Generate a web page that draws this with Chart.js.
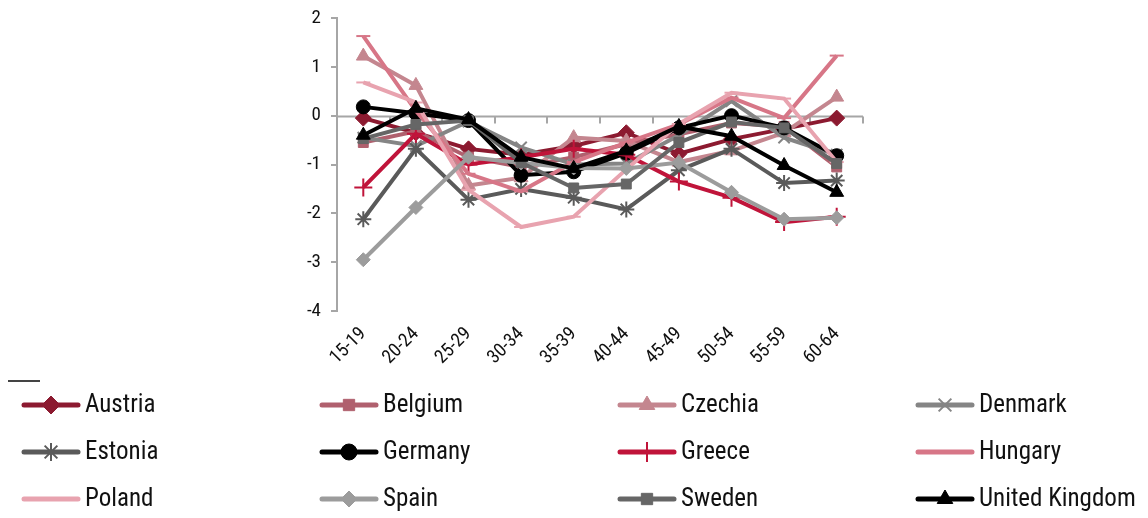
<!DOCTYPE html>
<html>
<head>
<meta charset="utf-8">
<script src="https://cdn.jsdelivr.net/npm/chart.js@4.4.1/dist/chart.umd.min.js"></script>
<style>
  html, body { margin: 0; padding: 0; background: #fff; }
  #wrap { width: 1148px; height: 518px; }
</style>
</head>
<body>
<div id="wrap"><canvas id="c" width="1148" height="518"></canvas></div>
<script>
const categories = ['15-19','20-24','25-29','30-34','35-39','40-44','45-49','50-54','55-59','60-64'];
const yTicks = [2, 1, 0, -1, -2, -3, -4];

const austria = [-0.05, -0.35, -0.68, -0.80, -0.62, -0.35, -0.78, -0.48, -0.27, -0.05];
const belgium = [-0.55, -0.32, -0.85, -1.05, -0.85, -0.58, -0.38, -0.15, -0.22, -1.05];
const czechia = [1.22, 0.62, -1.43, -1.27, -0.45, -0.52, -0.95, -0.72, -0.35, 0.38];
const denmark = [-0.45, -0.62, -0.12, -0.65, -1.00, -0.98, -0.40, 0.30, -0.45, -0.80];
const estonia = [-2.12, -0.68, -1.72, -1.50, -1.68, -1.92, -1.12, -0.68, -1.38, -1.33];
const germany = [0.18, 0.05, -0.10, -1.22, -1.15, -0.77, -0.25, 0.00, -0.25, -0.82];
const greece = [-1.47, -0.37, -1.00, -0.85, -0.68, -0.80, -1.35, -1.68, -2.18, -2.07];
const hungary = [1.63, 0.10, -1.19, -1.55, -0.95, -0.55, -0.18, 0.37, -0.05, 1.23];
const poland = [0.68, 0.27, -1.52, -2.28, -2.07, -1.10, -0.17, 0.47, 0.35, -0.95];
const spain = [-2.95, -1.88, -0.85, -0.97, -1.07, -1.08, -0.96, -1.57, -2.12, -2.09];
const sweden = [-0.47, -0.18, -0.10, -0.96, -1.48, -1.40, -0.55, -0.13, -0.25, -0.98];
const unitedKingdom = [-0.40, 0.15, -0.08, -0.85, -1.08, -0.72, -0.22, -0.42, -1.02, -1.57];

const seriesNames = ['Austria','Belgium','Czechia','Denmark','Estonia','Germany','Greece','Hungary','Poland','Spain','Sweden','United Kingdom'];
const seriesData = [austria, belgium, czechia, denmark, estonia, germany, greece, hungary, poland, spain, sweden, unitedKingdom];
const seriesColors = ['#8C1A30','#B0606E','#C4868F','#858585','#5A5A5A','#000000','#C0143A','#D77687','#E8A3AF','#9C9C9C','#666666','#000000'];
const seriesMarkers = ['rectRot','rect','triangle','crossRot','star','circle','cross','line','line','rectRot','rect','triangle'];
const seriesRadius = [8, 7, 8, 8, 8, 7, 9, 7, 7, 7, 7, 8];

const FONT = "'Roboto Condensed', 'Liberation Sans Narrow', 'Roboto', sans-serif";

const datasets = seriesNames.map((name, i) => ({
  label: name,
  data: seriesData[i],
  borderColor: seriesColors[i],
  backgroundColor: seriesColors[i],
  borderWidth: 4,
  pointStyle: seriesMarkers[i],
  pointRadius: seriesRadius[i],
  pointHoverRadius: seriesRadius[i],
  pointBorderWidth: (['star','cross','crossRot','line'].includes(seriesMarkers[i])) ? 2 : 1,
  pointBackgroundColor: seriesColors[i],
  pointBorderColor: seriesColors[i],
  tension: 0,
  fill: false,
  clip: false,
  order: seriesNames.length - i
}));

const zeroLinePlugin = {
  id: 'zeroLine',
  beforeDatasetsDraw(chart) {
    const {ctx, chartArea, scales} = chart;
    const x = scales.x, y = scales.y;
    const y0 = Math.round(y.getPixelForValue(0)) + 0.5;
    const step = x.getPixelForValue(1) - x.getPixelForValue(0);
    ctx.save();
    ctx.strokeStyle = '#A6A6A6';
    ctx.lineWidth = 2;
    ctx.beginPath();
    ctx.moveTo(chartArea.left, y0);
    ctx.lineTo(chartArea.right, y0);
    for (let i = 1; i <= categories.length; i++) {
      const px = Math.round(x.getPixelForValue(i) - step / 2);
      ctx.moveTo(px, y0);
      ctx.lineTo(px, y0 + 7);
    }
    ctx.stroke();
    ctx.restore();
  }
};

const legendPlugin = {
  id: 'gridLegend',
  afterDraw(chart) {
    const ctx = chart.ctx;
    const colX = [24, 322, 620, 918];
    const rowY = [405, 452, 499];
    ctx.save();
    ctx.strokeStyle = '#444';
    ctx.lineWidth = 2;
    ctx.beginPath();
    ctx.moveTo(8, 381); ctx.lineTo(40, 381);
    ctx.stroke();
    seriesNames.forEach((name, i) => {
      const cx = colX[i % 4];
      const cy = rowY[Math.floor(i / 4)];
      const col = seriesColors[i];
      ctx.strokeStyle = col;
      ctx.fillStyle = col;
      ctx.lineWidth = 5;
      ctx.lineCap = 'round';
      ctx.beginPath();
      ctx.moveTo(cx, cy);
      ctx.lineTo(cx + 54, cy);
      ctx.stroke();
      ctx.lineCap = 'butt';
      if (seriesMarkers[i] !== 'line') {
        const opts = {
          pointStyle: seriesMarkers[i],
          radius: seriesRadius[i] + 1,
          rotation: 0,
          borderWidth: (['star','cross','crossRot'].includes(seriesMarkers[i])) ? 2 : 1
        };
        ctx.lineWidth = opts.borderWidth;
        Chart.helpers.drawPoint(ctx, opts, cx + 27, cy);
      }
      ctx.fillStyle = '#111';
      ctx.font = "25px " + FONT;
      ctx.textBaseline = 'middle';
      ctx.textAlign = 'left';
      ctx.fillText(name, cx + 61, cy + 1);
    });
    ctx.restore();
  }
};

new Chart(document.getElementById('c'), {
  type: 'line',
  data: { labels: categories, datasets: datasets },
  options: {
    responsive: false,
    maintainAspectRatio: false,
    animation: false,
    events: [],
    layout: { autoPadding: false, padding: { left: 280, right: 285, top: 18, bottom: 147 } },
    plugins: { legend: { display: false }, tooltip: { enabled: false } },
    scales: {
      x: {
        type: 'category',
        offset: true,
        grid: { display: false },
        border: { display: false },
        ticks: {
          minRotation: 45, maxRotation: 45, autoSkip: false,
          color: '#111', padding: 4,
          font: { size: 19, family: FONT }
        },
        afterFit(scale) { scale.height = 60; scale.paddingLeft = 0; scale.paddingRight = 0; }
      },
      y: {
        min: -4, max: 2,
        afterBuildTicks(scale) { scale.ticks = yTicks.map(v => ({ value: v })); },
        grid: { drawOnChartArea: false, drawTicks: true, tickLength: 6, color: '#A6A6A6', lineWidth: 2 },
        border: { display: true, color: '#A6A6A6', width: 2 },
        ticks: { color: '#111', padding: 10, font: { size: 19, family: FONT } },
        afterFit(scale) { scale.width = 57; scale.paddingTop = 0; scale.paddingBottom = 0; }
      }
    }
  },
  plugins: [zeroLinePlugin, legendPlugin]
});
</script>
</body>
</html>
